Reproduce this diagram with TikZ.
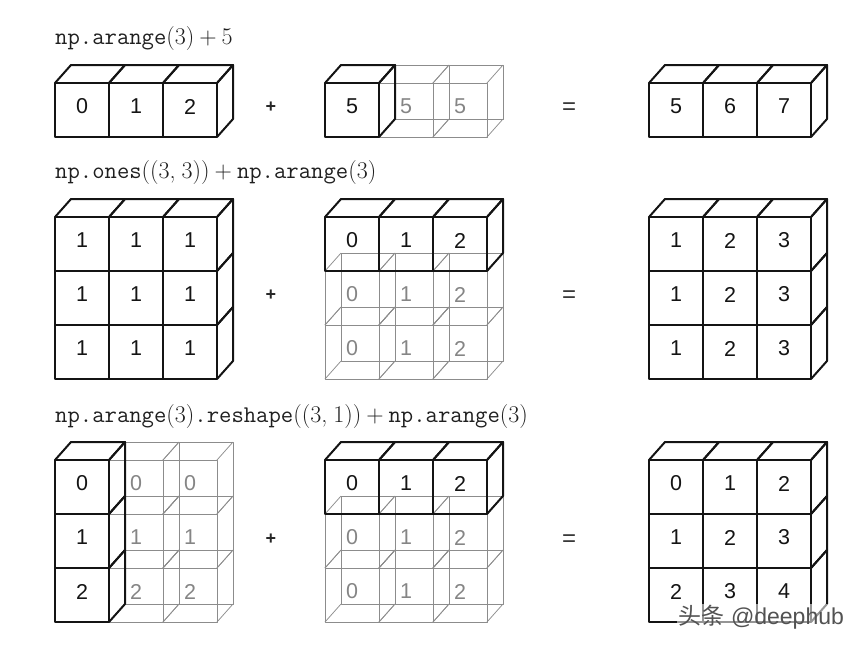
\documentclass[tikz,border=0pt]{standalone}
\usepackage{fontspec}
\newfontfamily\cellfont{Liberation Sans}
\newfontfamily\cjkfont{Noto Sans CJK SC}
\newcommand{\ttw}[1]{{\ttfamily #1}}
\newcommand{\plusgap}{\hspace{5pt}+\hspace{5pt}}
\tikzset{
  hard/.style={draw=black!92,line width=2pt,line join=round,line cap=round},
  soft/.style={draw=black!45,line width=0.75pt,line join=round},
  boldnum/.style={font=\cellfont\fontsize{21.5}{22}\selectfont,text=black!92,inner sep=0pt},
  softnum/.style={font=\cellfont\fontsize{21.5}{22}\selectfont,text=black!48,inner sep=0pt},
  opnum/.style={font=\cellfont\bfseries\fontsize{18}{19}\selectfont,text=black!85,inner sep=0pt},
  eqnum/.style={font=\cellfont\fontsize{24}{25}\selectfont,text=black!80,inner sep=0pt},
  caption/.style={anchor=base west,inner sep=0pt,font=\fontsize{24}{28}\selectfont,text=black!88},
  mark text/.style={font=\fontsize{23}{25}\selectfont,text=black!68,inner sep=1pt}
}
% front face of a solid cube: #1,#2 = top-left corner; #3 label; #4 name
\newcommand{\hardcube}[4]{
  \draw[hard] (#1,#2) rectangle ++(54,54);
  \node[boldnum] (#4) at (#1+27,#2+23.5) {#3};
}
% top face over the cube at #1,#2
\newcommand{\hardtop}[2]{
  \draw[hard] (#1,#2) -- ++(16,-18) -- ++(54,0) -- ++(-16,18);
}
% right face beside the cube at #1,#2
\newcommand{\hardside}[2]{
  \draw[hard] (#1+54,#2) -- ++(16,-18) -- ++(0,54) -- ++(-16,18);
}
% wire cube: all twelve edges
\newcommand{\softcube}[4]{
  \draw[soft] (#1,#2) rectangle ++(54,54);
  \draw[soft] (#1+16,#2-18) rectangle ++(54,54);
  \draw[soft] (#1,#2) -- ++(16,-18) (#1+54,#2) -- ++(16,-18)
              (#1,#2+54) -- ++(16,-18) (#1+54,#2+54) -- ++(16,-18);
  \node[softnum] (#4) at (#1+27,#2+23.5) {#3};
}
\begin{document}
\begin{tikzpicture}[x=1pt,y=-1pt]
\useasboundingbox (0,0) rectangle (864,648);

\node[caption] (capa) at (55,44) {\ttw{np.arange}(3)\plusgap 5};
\node[caption] (capb) at (55,178) {\ttw{np.ones}((3,\hspace{6pt}3))\plusgap\ttw{np.arange}(3)};
\node[caption] (capc) at (55,422) {\ttw{np.arange}(3)\ttw{.reshape}((3,\hspace{6pt}1))\plusgap\ttw{np.arange}(3)};

% row 1
\softcube{379}{83}{5}{a15}
\softcube{433}{83}{5}{a16}
\hardcube{55}{83}{0}{a1}
\hardcube{109}{83}{1}{a2}
\hardcube{163}{83}{2}{a3}
\hardtop{55}{83}\hardtop{109}{83}\hardtop{163}{83}\hardside{163}{83}
\hardcube{325}{83}{5}{a4}
\hardtop{325}{83}\hardside{325}{83}
\hardcube{649}{83}{5}{a7}
\hardcube{703}{83}{6}{a8}
\hardcube{757}{83}{7}{a9}
\hardtop{649}{83}\hardtop{703}{83}\hardtop{757}{83}\hardside{757}{83}
\node[opnum] (aplus) at (271,107) {+};
\node[eqnum] (aeq) at (569,109) {=};

% row 2 : left
\hardcube{55}{217}{1}{b1}
\hardcube{109}{217}{1}{b2}
\hardcube{163}{217}{1}{b3}
\hardcube{55}{271}{1}{b4}
\hardcube{109}{271}{1}{b5}
\hardcube{163}{271}{1}{b6}
\hardcube{55}{325}{1}{b7}
\hardcube{109}{325}{1}{b8}
\hardcube{163}{325}{1}{b9}
\hardtop{55}{217}\hardtop{109}{217}\hardtop{163}{217}
\hardside{163}{217}\hardside{163}{271}\hardside{163}{325}
% row 2 : middle
\softcube{325}{271}{0}{c4}
\softcube{379}{271}{1}{c5}
\softcube{433}{271}{2}{c6}
\softcube{325}{325}{0}{c7}
\softcube{379}{325}{1}{c8}
\softcube{433}{325}{2}{c9}
\hardcube{325}{217}{0}{c1}
\hardcube{379}{217}{1}{c2}
\hardcube{433}{217}{2}{c3}
\hardtop{325}{217}\hardtop{379}{217}\hardtop{433}{217}\hardside{433}{217}
% row 2 : right
\hardcube{649}{217}{1}{d1}
\hardcube{703}{217}{2}{d2}
\hardcube{757}{217}{3}{d3}
\hardcube{649}{271}{1}{d4}
\hardcube{703}{271}{2}{d5}
\hardcube{757}{271}{3}{d6}
\hardcube{649}{325}{1}{d7}
\hardcube{703}{325}{2}{d8}
\hardcube{757}{325}{3}{d9}
\hardtop{649}{217}\hardtop{703}{217}\hardtop{757}{217}
\hardside{757}{217}\hardside{757}{271}\hardside{757}{325}
\node[opnum] (bplus) at (271,295) {+};
\node[eqnum] (beq) at (569,297) {=};

% row 3 : left
\softcube{109}{460}{0}{e2}
\softcube{163}{460}{0}{e3}
\softcube{109}{514}{1}{e5}
\softcube{163}{514}{1}{e6}
\softcube{109}{568}{2}{e8}
\softcube{163}{568}{2}{e9}
\hardcube{55}{460}{0}{e1}
\hardcube{55}{514}{1}{e4}
\hardcube{55}{568}{2}{e7}
\hardtop{55}{460}\hardside{55}{460}\hardside{55}{514}\hardside{55}{568}
% row 3 : middle
\softcube{325}{514}{0}{f4}
\softcube{379}{514}{1}{f5}
\softcube{433}{514}{2}{f6}
\softcube{325}{568}{0}{f7}
\softcube{379}{568}{1}{f8}
\softcube{433}{568}{2}{f9}
\hardcube{325}{460}{0}{f1}
\hardcube{379}{460}{1}{f2}
\hardcube{433}{460}{2}{f3}
\hardtop{325}{460}\hardtop{379}{460}\hardtop{433}{460}\hardside{433}{460}
% row 3 : right
\hardcube{649}{460}{0}{g1}
\hardcube{703}{460}{1}{g2}
\hardcube{757}{460}{2}{g3}
\hardcube{649}{514}{1}{g4}
\hardcube{703}{514}{2}{g5}
\hardcube{757}{514}{3}{g6}
\hardcube{649}{568}{2}{g7}
\hardcube{703}{568}{3}{g8}
\hardcube{757}{568}{4}{g9}
\hardtop{649}{460}\hardtop{703}{460}\hardtop{757}{460}
\hardside{757}{460}\hardside{757}{514}\hardside{757}{568}
\node[opnum] (cplus) at (271,539) {+};
\node[eqnum] (ceq) at (569,541) {=};

% watermark
\node[mark text,anchor=center,fill=white,fill opacity=0.55,text opacity=1] (wm) at (761,617)
  {{\cjkfont 头条} {\cellfont @deephub}};
\end{tikzpicture}
\end{document}
